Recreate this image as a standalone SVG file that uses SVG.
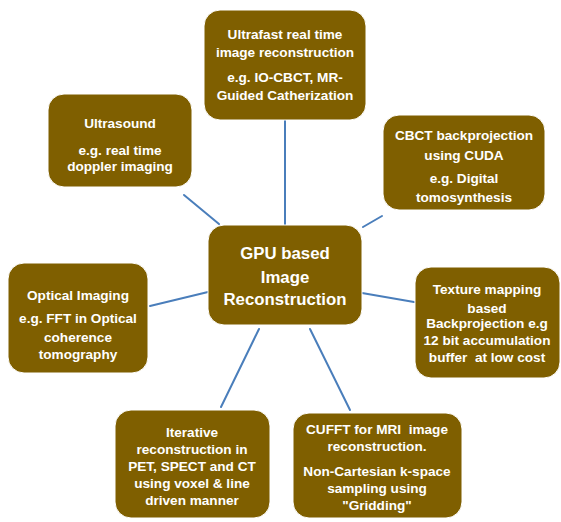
<svg xmlns="http://www.w3.org/2000/svg" width="561" height="522" viewBox="0 0 561 522">
  <style>
    .box { fill: #7f5f00; stroke: #ffffff; stroke-width: 1; }
    .lbl { fill: #ffffff; font-family: "Liberation Sans", Arial, sans-serif; font-weight: bold; font-size: 13.6px; text-anchor: middle; white-space: pre; }
    .big { font-size: 16.8px; }
    .link { stroke: #4a7ebb; stroke-width: 2; fill: none; stroke-linecap: round; }
  </style>
  <rect width="561" height="522" fill="#ffffff"/>

  <!-- connectors from the hub to each application -->
  <g id="connectors">
    <line class="link" x1="285" y1="120" x2="285" y2="225"/>
    <line class="link" x1="184" y1="195" x2="219" y2="224"/>
    <line class="link" x1="363" y1="227" x2="382" y2="216"/>
    <line class="link" x1="150" y1="306" x2="208" y2="292"/>
    <line class="link" x1="362" y1="293" x2="414" y2="302"/>
    <line class="link" x1="221" y1="407" x2="259" y2="329"/>
    <line class="link" x1="310" y1="329" x2="350" y2="410"/>
  </g>

  <g id="hub">
    <rect class="box" x="208" y="225" width="154" height="100" rx="16"/>
    <text class="lbl big" x="285" y="259">GPU based</text>
    <text class="lbl big" x="285" y="283">Image</text>
    <text class="lbl big" x="285" y="305">Reconstruction</text>
  </g>

  <g id="ultrafast">
    <rect class="box" x="204" y="10" width="162" height="110" rx="16"/>
    <text class="lbl" x="285" y="39">Ultrafast real time</text>
    <text class="lbl" x="285" y="57">image reconstruction</text>
    <text class="lbl" x="285" y="82">e.g. IO-CBCT, MR-</text>
    <text class="lbl" x="285" y="100">Guided Catherization</text>
  </g>

  <g id="ultrasound">
    <rect class="box" x="48" y="94" width="144" height="93" rx="16"/>
    <text class="lbl" x="120" y="128">Ultrasound</text>
    <text class="lbl" x="120" y="155">e.g. real time</text>
    <text class="lbl" x="120" y="171">doppler imaging</text>
  </g>

  <g id="cbct">
    <rect class="box" x="383" y="115" width="162" height="95" rx="16"/>
    <text class="lbl" x="464" y="140">CBCT backprojection</text>
    <text class="lbl" x="464" y="160">using CUDA</text>
    <text class="lbl" x="464" y="183">e.g. Digital</text>
    <text class="lbl" x="464" y="202">tomosynthesis</text>
  </g>

  <g id="optical">
    <rect class="box" x="8" y="263" width="140" height="110" rx="16"/>
    <text class="lbl" x="78" y="300">Optical Imaging</text>
    <text class="lbl" x="78" y="323">e.g. FFT in Optical</text>
    <text class="lbl" x="78" y="342">coherence</text>
    <text class="lbl" x="78" y="359">tomography</text>
  </g>

  <g id="texture">
    <rect class="box" x="415" y="267" width="145" height="111" rx="16"/>
    <text class="lbl" x="487" y="294">Texture mapping</text>
    <text class="lbl" x="487" y="313">based</text>
    <text class="lbl" x="487" y="328">Backprojection e.g</text>
    <text class="lbl" x="487" y="345">12 bit accumulation</text>
    <text class="lbl" x="487" y="362">buffer  at low cost</text>
  </g>

  <g id="iterative">
    <rect class="box" x="115" y="410" width="155" height="108" rx="16"/>
    <text class="lbl" x="192" y="437">Iterative</text>
    <text class="lbl" x="192" y="454">reconstruction in</text>
    <text class="lbl" x="192" y="471">PET, SPECT and CT</text>
    <text class="lbl" x="192" y="488">using voxel &amp; line</text>
    <text class="lbl" x="192" y="505">driven manner</text>
  </g>

  <g id="cufft">
    <rect class="box" x="293" y="413" width="169" height="105" rx="16"/>
    <text class="lbl" x="377" y="434">CUFFT for MRI  image</text>
    <text class="lbl" x="377" y="451">reconstruction.</text>
    <text class="lbl" x="377" y="476">Non-Cartesian k-space</text>
    <text class="lbl" x="377" y="493">sampling using</text>
    <text class="lbl" x="377" y="510">"Gridding"</text>
  </g>
</svg>
